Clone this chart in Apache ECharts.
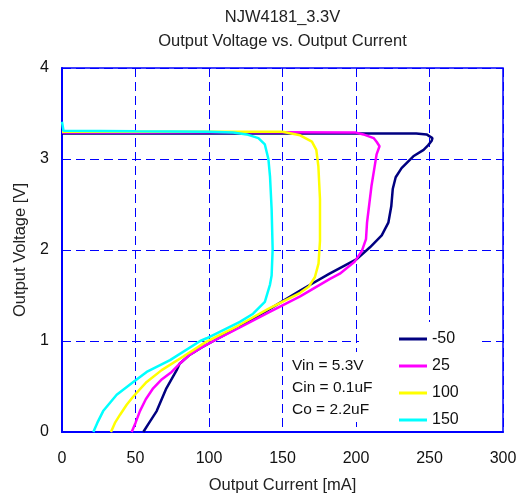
<!DOCTYPE html>
<html>
<head>
<meta charset="utf-8">
<script src="https://cdn.jsdelivr.net/npm/echarts@6/dist/echarts.min.js"></script>
<style>
html,body{margin:0;padding:0;background:#fff;}
#chart{width:520px;height:499px;}
</style>
</head>
<body>
<div id="chart"></div>
<script>
// ---- Data (Output Current [mA] vs Output Voltage [V]) ----
const seriesNames = ['-50', '25', '100', '150'];
const xTicks = [0, 50, 100, 150, 200, 250, 300];
const yTicks = [0, 1, 2, 3, 4];

const iM50 = [55.3, 60, 64.4, 71, 78, 80, 87, 95, 103, 120, 140, 162, 182, 200.5, 209.5, 217.5, 222, 224, 225, 227, 231, 239, 246, 249, 251.5, 252, 248, 241, 200, 150, 100, 50, 0];
const vM50 = [0, 0.12, 0.23, 0.48, 0.68, 0.75, 0.85, 0.93, 1.0, 1.15, 1.34, 1.555, 1.74, 1.90, 2.03, 2.16, 2.30, 2.48, 2.67, 2.80, 2.90, 3.03, 3.10, 3.15, 3.20, 3.23, 3.27, 3.28, 3.28, 3.28, 3.28, 3.28, 3.28];

const i25 = [47.4, 50, 53, 57, 62, 68, 74.6, 80, 87, 95, 103, 120, 140, 162, 182, 189, 199, 204, 206.8, 207.5, 209, 210.5, 212.5, 214, 216, 214, 212, 205, 200, 150, 100, 50, 0];
const v25 = [0, 0.1, 0.23, 0.36, 0.48, 0.58, 0.66, 0.75, 0.85, 0.93, 1.0, 1.14, 1.31, 1.49, 1.68, 1.74, 1.87, 1.99, 2.12, 2.30, 2.50, 2.70, 2.90, 3.05, 3.14, 3.19, 3.23, 3.27, 3.29, 3.295, 3.295, 3.29, 3.29];

const i100 = [33.3, 36, 39.5, 44, 48.5, 57.6, 67.8, 82.5, 98, 120, 140, 162, 168, 172, 174.5, 175.5, 175.5, 174.4, 173, 170, 162, 150, 100, 50, 0];
const v100 = [0, 0.1, 0.19, 0.3, 0.39, 0.55, 0.68, 0.83, 0.99, 1.17, 1.35, 1.53, 1.6, 1.7, 1.85, 2.1, 2.56, 2.92, 3.10, 3.19, 3.26, 3.30, 3.30, 3.30, 3.30];

const i150 = [21.3, 24, 28, 37.2, 48.5, 57.6, 73.5, 94, 98.4, 121, 130, 138, 141.5, 142.6, 143.3, 142.6, 141.5, 140.4, 138, 133.6, 125.6, 116.5, 100, 50, 1, 0];
const v150 = [0, 0.1, 0.23, 0.41, 0.55, 0.66, 0.79, 1.0, 1.03, 1.21, 1.30, 1.43, 1.62, 1.72, 2.01, 2.45, 2.81, 3.0, 3.16, 3.23, 3.27, 3.29, 3.30, 3.305, 3.31, 3.41];

const noteLines = ['Vin = 5.3V', 'Cin = 0.1uF', 'Co = 2.2uF'];
const titleLines = ['NJW4181_3.3V', 'Output Voltage vs. Output Current'];

// ---- Chart ----
const FONT = 'Liberation Sans, Arial, sans-serif';
const colors = ['#000080', '#ff00ff', '#ffff00', '#00ffff'];
const zip = (xs, ys) => xs.map((x, k) => [x, ys[k]]);
const dataSets = [zip(iM50, vM50), zip(i25, v25), zip(i100, v100), zip(i150, v150)];

const chart = echarts.init(document.getElementById('chart'), null, {renderer: 'canvas'});
const gridLeft = 62, gridRight = 17, gridTop = 68, gridBottom = 65;
const plotCenterX = gridLeft + (520 - gridLeft - gridRight) / 2;

const option = {
  animation: false,
  backgroundColor: '#fff',
  color: colors,
  grid: {left: gridLeft, right: gridRight, top: gridTop, bottom: gridBottom,
         show: true, borderColor: '#0000ff', borderWidth: 1.5, backgroundColor: 'transparent'},
  xAxis: {
    type: 'value', min: xTicks[0], max: xTicks[xTicks.length - 1], interval: 50,
    name: 'Output Current [mA]', nameLocation: 'middle', nameGap: 45,
    nameTextStyle: {fontFamily: FONT, fontSize: 16.5, color: '#222'},
    axisLine: {show: true, onZero: false, lineStyle: {color: '#0000ff', width: 2}},
    axisTick: {show: false},
    axisLabel: {fontFamily: FONT, fontSize: 16, color: '#111', margin: 19},
    splitLine: {show: true, lineStyle: {color: '#0000ff', width: 1, type: [9, 5]}}
  },
  yAxis: {
    type: 'value', min: yTicks[0], max: yTicks[yTicks.length - 1], interval: 1,
    name: 'Output Voltage [V]', nameLocation: 'middle', nameGap: 31,
    nameTextStyle: {fontFamily: FONT, fontSize: 16.5, color: '#222'},
    axisLine: {show: true, onZero: false, lineStyle: {color: '#0000ff', width: 2}},
    axisTick: {show: false},
    axisLabel: {fontFamily: FONT, fontSize: 16, color: '#111', margin: 13},
    splitLine: {show: true, lineStyle: {color: '#0000ff', width: 1, type: [9, 5]}}
  },
  legend: {
    orient: 'vertical', left: 359, top: 322,
    data: seriesNames,
    icon: 'rect', itemWidth: 28, itemHeight: 3, itemGap: 9,
    padding: [8, 22, 0, 40],
    backgroundColor: '#fff',
    textStyle: {fontFamily: FONT, fontSize: 16, color: '#111', lineHeight: 18},
    z: 5
  },
  graphic: [
    {type: 'text', x: plotCenterX, y: 9, z: 10,
     style: {text: titleLines[0], font: '16.5px ' + FONT, fill: '#222', align: 'center', verticalAlign: 'top'}},
    {type: 'text', x: plotCenterX, y: 33, z: 10,
     style: {text: titleLines[1], font: '16.5px ' + FONT, fill: '#222', align: 'center', verticalAlign: 'top'}},
    {type: 'rect', shape: {x: 288, y: 352, width: 84, height: 70}, z: 9,
     style: {fill: '#fff'}},
    {type: 'text', x: 292, y: 355, z: 10,
     style: {text: noteLines.join('\n'), font: '15.5px ' + FONT, fill: '#111', lineHeight: 22, verticalAlign: 'top'}}
  ],
  series: dataSets.map((d, k) => ({
    name: seriesNames[k], type: 'line', data: d,
    showSymbol: false, symbol: 'none', smooth: false,
    lineStyle: {width: 2.5, color: colors[k]},
    itemStyle: {color: colors[k]},
    z: 2 + k
  }))
};
chart.setOption(option);
</script>
</body>
</html>
